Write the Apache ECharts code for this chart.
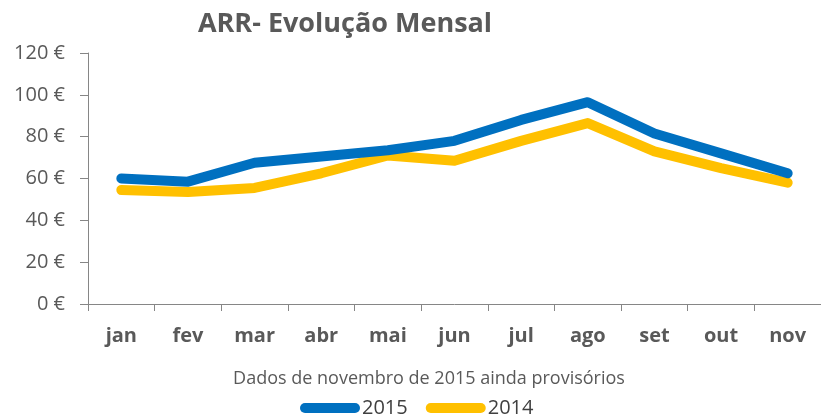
<!DOCTYPE html>
<html><head><meta charset="utf-8">
<script src="https://cdn.jsdelivr.net/npm/echarts@6/dist/echarts.min.js"></script>
<style>html,body{margin:0;padding:0;background:#fff}#c{width:821px;height:415px}</style>
</head><body><div id="c"></div>
<script>
const months = ['jan','fev','mar','abr','mai','jun','jul','ago','set','out','nov'];
const arr2015 = [60, 58.5, 67.5, 70.5, 73.5, 78, 88, 96.5, 81.5, 72, 62.5];
const arr2014 = [54.5, 53.5, 55.5, 62.5, 71, 68.5, 78, 86.5, 73, 65, 58];
const yTicks = [0, 20, 40, 60, 80, 100, 120];
const FONT = '"Open Sans", sans-serif';
const TXT = '#595959';
const chart = echarts.init(document.getElementById('c'));
const capsule = 'path://M5,0 L55,0 A5,5 0 0 1 55,10 L5,10 A5,5 0 0 1 5,0 Z';
chart.setOption({
  animation: false,
  title: [
    {text: 'ARR- Evolução Mensal', left: 340, textAlign: 'center', top: 6,
     textStyle: {fontFamily: FONT, fontWeight: 'bold', fontSize: 27, color: TXT}},
    {text: 'Dados de novembro de 2015 ainda provisórios', left: 424, textAlign: 'center', top: 365,
     textStyle: {fontFamily: FONT, fontWeight: 'normal', fontSize: 18, color: TXT}}
  ],
  legend: {
    left: 295, top: 393, itemWidth: 60, itemHeight: 10, itemGap: 18,
    icon: capsule,
    textStyle: {fontFamily: FONT, fontSize: 20, color: '#404040', padding: [0,0,0,-3]},
    data: ['2015', '2014']
  },
  grid: {left: 88, right: -1, top: 53, bottom: 111},
  xAxis: {
    type: 'category', data: months, boundaryGap: true,
    axisLine: {lineStyle: {color: '#868686', width: 1}},
    axisTick: {show: true, length: 7, lineStyle: {color: '#868686'}},
    axisLabel: {fontFamily: FONT, fontWeight: 'bold', fontSize: 20, color: TXT, margin: 22}
  },
  yAxis: {
    type: 'value', min: yTicks[0], max: yTicks[yTicks.length-1], interval: 20,
    axisLine: {show: true, lineStyle: {color: '#868686', width: 1}},
    axisTick: {show: true, length: 8, lineStyle: {color: '#868686'}},
    splitLine: {show: false},
    axisLabel: {fontFamily: FONT, fontSize: 20, color: TXT, margin: 23, formatter: v => v + ' €'}
  },
  series: [
    {name: '2015', type: 'line', data: arr2015, symbol: 'none', z: 3,
     lineStyle: {color: '#0070C0', width: 10, cap: 'round', join: 'round'}, itemStyle: {color: '#0070C0'}},
    {name: '2014', type: 'line', data: arr2014, symbol: 'none', z: 2,
     lineStyle: {color: '#FFC000', width: 10, cap: 'round', join: 'round'}, itemStyle: {color: '#FFC000'}}
  ]
});
</script></body></html>
